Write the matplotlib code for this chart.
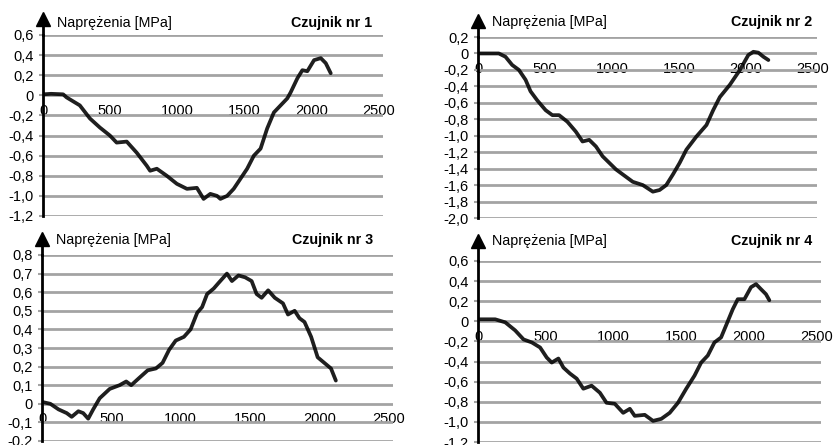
import numpy as np
import matplotlib
matplotlib.use('Agg')
import matplotlib.pyplot as plt
import matplotlib.ticker as ticker

plt.rcParams['font.family'] = ['Liberation Sans', 'DejaVu Sans']

Y_LABEL = 'Naprężenia [MPa]'
TITLES = ['Czujnik nr 1', 'Czujnik nr 2', 'Czujnik nr 3', 'Czujnik nr 4']
X_TICKS = [0, 500, 1000, 1500, 2000, 2500]

x1 = [0, 60, 150, 175, 274, 349, 423, 498, 548, 623, 697, 772, 797, 847, 921, 996,
      1071, 1145, 1195, 1245, 1295, 1320, 1370, 1419, 1469, 1519, 1569, 1619, 1668,
      1718, 1768, 1818, 1843, 1893, 1930, 1967, 2017, 2067, 2104, 2141]
y1 = [0.01, 0.015, 0.01, -0.02, -0.10, -0.23, -0.32, -0.40, -0.47, -0.46, -0.57, -0.70,
      -0.75, -0.73, -0.80, -0.88, -0.93, -0.92, -1.03, -0.98, -1.00, -1.03, -1.00, -0.93,
      -0.83, -0.73, -0.60, -0.53, -0.33, -0.17, -0.10, -0.03, 0.03, 0.17, 0.25, 0.24,
      0.35, 0.37, 0.32, 0.22]

x2 = [0, 80, 155, 205, 255, 305, 355, 392, 442, 505, 555, 605, 667, 730, 780, 830,
      880, 930, 980, 1030, 1080, 1155, 1230, 1305, 1355, 1405, 1455, 1505, 1555, 1630,
      1705, 1755, 1805, 1880, 1955, 2017, 2055, 2092, 2130, 2167]
y2 = [0.0, 0.0, 0.0, -0.04, -0.14, -0.20, -0.32, -0.46, -0.57, -0.69, -0.75, -0.75,
      -0.83, -0.95, -1.07, -1.05, -1.13, -1.25, -1.33, -1.41, -1.47, -1.56, -1.60, -1.68,
      -1.66, -1.60, -1.47, -1.33, -1.17, -1.01, -0.87, -0.69, -0.53, -0.38, -0.20, -0.02,
      0.02, 0.01, -0.04, -0.08]

x3 = [0, 60, 119, 178, 214, 262, 297, 333, 369, 416, 488, 559, 607, 643, 702, 762,
      821, 869, 916, 964, 1023, 1071, 1119, 1154, 1190, 1238, 1273, 1333, 1369, 1416,
      1464, 1511, 1547, 1583, 1630, 1678, 1737, 1773, 1821, 1856, 1892, 1940, 1987,
      2035, 2083, 2118]
y3 = [0.01, 0.0, -0.03, -0.05, -0.07, -0.04, -0.05, -0.08, -0.03, 0.03, 0.08, 0.10,
      0.12, 0.10, 0.14, 0.18, 0.19, 0.22, 0.29, 0.34, 0.36, 0.40, 0.49, 0.52, 0.59,
      0.62, 0.65, 0.70, 0.66, 0.69, 0.68, 0.66, 0.59, 0.57, 0.61, 0.57, 0.54, 0.48,
      0.50, 0.46, 0.44, 0.36, 0.25, 0.22, 0.19, 0.125]

x4 = [0, 127, 201, 274, 336, 397, 458, 507, 544, 593, 630, 679, 728, 777, 838, 899,
      948, 1009, 1071, 1120, 1156, 1230, 1291, 1352, 1414, 1475, 1536, 1597, 1646,
      1695, 1744, 1793, 1830, 1879, 1916, 1965, 2014, 2051, 2087, 2124, 2149]
y4 = [0.02, 0.02, -0.01, -0.09, -0.18, -0.21, -0.26, -0.36, -0.41, -0.37, -0.46, -0.52,
      -0.57, -0.67, -0.64, -0.71, -0.81, -0.82, -0.91, -0.87, -0.94, -0.93, -0.99, -0.97,
      -0.91, -0.81, -0.67, -0.54, -0.41, -0.34, -0.21, -0.16, -0.04, 0.12, 0.22, 0.22,
      0.34, 0.37, 0.32, 0.27, 0.21]

series = [(x1, y1), (x2, y2), (x3, y3), (x4, y4)]
ylims = [(-1.2, 0.6), (-2.0, 0.2), (-0.2, 0.8), (-1.2, 0.6)]
ysteps = [0.2, 0.2, 0.1, 0.2]

W, H = 838, 445
# pixel boxes: left, right, top, bottom
boxes = [(43, 383, 35, 216), (478, 817, 37, 218), (42, 393, 255, 441), (478, 821, 261, 442)]
label_dy = [12, 15, 15, 20]
title_dx = [11, 5, 20, 9]
arrow_dy = [16, 16, 16, 20]

fig = plt.figure(figsize=(W / 100, H / 100), dpi=100, facecolor='white')


def fmt(v, pos):
    if abs(v) < 1e-9:
        return '0'
    return f'{v:.1f}'.replace('.', ',')


for i, ((xs, ys), (l, r, t, b)) in enumerate(zip(series, boxes)):
    ax = fig.add_axes([l / W, 1 - b / H, (r - l) / W, (b - t) / H])
    ax.set_xlim(0, 2530)
    ax.set_ylim(*ylims[i])
    lo, hi = ylims[i]
    n = int(round((hi - lo) / ysteps[i]))
    ax.set_yticks(np.linspace(lo, hi, n + 1))
    ax.yaxis.set_major_formatter(ticker.FuncFormatter(fmt))
    ax.set_xticks(X_TICKS)
    ax.set_xticklabels([str(v) for v in X_TICKS])
    ax.yaxis.grid(True, color='#a3a3a3', linewidth=2.0)
    ax.set_axisbelow(True)
    for s in ['top', 'right', 'bottom']:
        ax.spines[s].set_visible(False)
    ax.spines['bottom'].set_position(('data', 0))
    ax.spines['left'].set_color('black')
    ax.spines['left'].set_linewidth(2.0)
    ax.tick_params(axis='y', length=3, width=1.5, color='#a3a3a3', pad=4, labelsize=10.5)
    ax.tick_params(axis='x', length=0, pad=6, labelsize=10.5)
    ax.set_facecolor('white')

    ax.plot(xs, ys, color='black', linewidth=2.7, solid_joinstyle='round',
            solid_capstyle='round', alpha=0.88)

    # arrow on the vertical axis
    ext = 1 + arrow_dy[i] / (b - t)
    ax.plot([0, 0], [1, ext], transform=ax.transAxes, color='black', linewidth=2.0,
            clip_on=False)
    ax.plot([0], [ext], transform=ax.transAxes, marker='^', color='black',
            markersize=9.5, clip_on=False)

    ax.annotate(Y_LABEL, xy=(0, 1), xycoords='axes fraction', xytext=(14, label_dy[i]),
                textcoords='offset pixels', ha='left', va='center', fontsize=10.3)
    ax.annotate(TITLES[i], xy=(1, 1), xycoords='axes fraction',
                xytext=(-title_dx[i], label_dy[i]), textcoords='offset pixels',
                ha='right', va='center', fontsize=10.3, fontweight='bold')

fig.savefig('out.png', dpi=100, facecolor='white')
